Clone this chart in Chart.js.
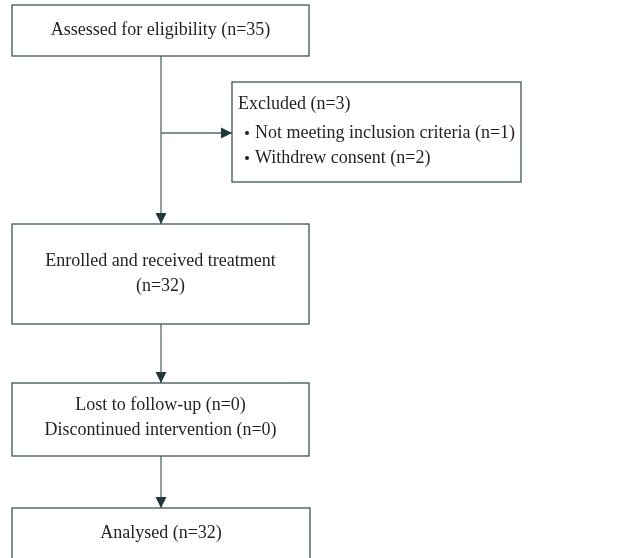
<!DOCTYPE html>
<html lang="en">
<head>
    <meta charset="UTF-8">
    <title>Flow diagram</title>
    <script src="https://cdn.jsdelivr.net/npm/chart.js"></script>
    <style>
        body {
            margin: 0;
            background-color: white;
            overflow: hidden;
        }
        #flowChart {
            display: block;
        }
    </style>
</head>
<body>
    <canvas id="flowChart" width="621" height="558"></canvas>
    <script>
        // texts of the diagram
        const stageTitles = [
            ['Assessed for eligibility (n=35)'],
            ['Enrolled and received treatment', '(n=32)'],
            ['Lost to follow-up (n=0)', 'Discontinued intervention (n=0)'],
            ['Analysed (n=32)']
        ];
        const excludedTitle = 'Excluded (n=3)';
        const excludedReasons = ['Not meeting inclusion criteria (n=1)', 'Withdrew consent (n=2)'];

        // layout in page units (scales run 0..621 and 0..558)
        const layout = {
            stages: [
                { x0: 12, x1: 309, y0: 5, y1: 56, lines: [30] },
                { x0: 12, x1: 309, y0: 224, y1: 324, lines: [261, 286] },
                { x0: 12, x1: 309, y0: 383, y1: 456, lines: [405, 430] },
                { x0: 12, x1: 310, y0: 508, y1: 570, lines: [533] }
            ],
            side: { x0: 232, x1: 521, y0: 82, y1: 182, title: 104, lines: [133, 158] },
            spineX: 161,
            branchY: 133
        };

        const textColor = '#231f20';
        const boxColor = '#3b5458';
        const lineColor = '#566b6f';
        const headColor = '#20393c';
        const font = '18px "Liberation Serif", "DejaVu Serif", serif';

        const flowPlugin = {
            id: 'flow',
            afterDraw(chart) {
                const ctx = chart.ctx;
                const sx = chart.scales.x;
                const sy = chart.scales.y;
                const px = v => sx.getPixelForValue(v);
                const py = v => sy.getPixelForValue(v);

                function box(b) {
                    ctx.strokeStyle = boxColor;
                    ctx.lineWidth = 1.3;
                    ctx.strokeRect(px(b.x0), py(b.y0), px(b.x1) - px(b.x0), py(b.y1) - py(b.y0));
                }
                function arrow(x0, y0, x1, y1) {
                    ctx.strokeStyle = lineColor;
                    ctx.lineWidth = 1.3;
                    ctx.beginPath();
                    ctx.moveTo(px(x0), py(y0));
                    ctx.lineTo(px(x1), py(y1));
                    ctx.stroke();
                    const ang = Math.atan2(py(y1) - py(y0), px(x1) - px(x0));
                    const len = 11, half = 5.5;
                    const tx = px(x1), ty = py(y1);
                    ctx.fillStyle = headColor;
                    ctx.beginPath();
                    ctx.moveTo(tx, ty);
                    ctx.lineTo(tx - len * Math.cos(ang) + half * Math.sin(ang), ty - len * Math.sin(ang) - half * Math.cos(ang));
                    ctx.lineTo(tx - len * Math.cos(ang) - half * Math.sin(ang), ty - len * Math.sin(ang) + half * Math.cos(ang));
                    ctx.closePath();
                    ctx.fill();
                }

                ctx.save();
                // connectors
                const st = layout.stages;
                arrow(layout.spineX, st[0].y1, layout.spineX, st[1].y0);
                arrow(layout.spineX, layout.branchY, layout.side.x0, layout.branchY);
                arrow(layout.spineX, st[1].y1, layout.spineX, st[2].y0);
                arrow(layout.spineX, st[2].y1, layout.spineX, st[3].y0);

                // stage boxes
                ctx.font = font;
                ctx.textBaseline = 'middle';
                st.forEach((b, i) => {
                    box(b);
                    ctx.fillStyle = textColor;
                    ctx.textAlign = 'center';
                    stageTitles[i].forEach((t, j) => {
                        ctx.fillText(t, (px(b.x0) + px(b.x1)) / 2, py(b.lines[j]));
                    });
                });

                // excluded box
                const s = layout.side;
                box(s);
                ctx.fillStyle = textColor;
                ctx.textAlign = 'left';
                ctx.fillText(excludedTitle, px(s.x0) + 6, py(s.title));
                excludedReasons.forEach((t, j) => {
                    ctx.beginPath();
                    ctx.arc(px(s.x0) + 15, py(s.lines[j]), 2, 0, Math.PI * 2);
                    ctx.fill();
                    ctx.fillText(t, px(s.x0) + 23, py(s.lines[j]));
                });
                ctx.restore();
            }
        };

        new Chart(document.getElementById('flowChart').getContext('2d'), {
            type: 'scatter',
            data: { datasets: [{ data: [] }] },
            options: {
                responsive: false,
                animation: false,
                layout: { padding: 0 },
                plugins: { legend: { display: false }, tooltip: { enabled: false } },
                scales: {
                    x: { type: 'linear', min: 0, max: 621, display: false },
                    y: { type: 'linear', min: 0, max: 558, reverse: true, display: false }
                }
            },
            plugins: [flowPlugin]
        });
    </script>
</body>
</html>
